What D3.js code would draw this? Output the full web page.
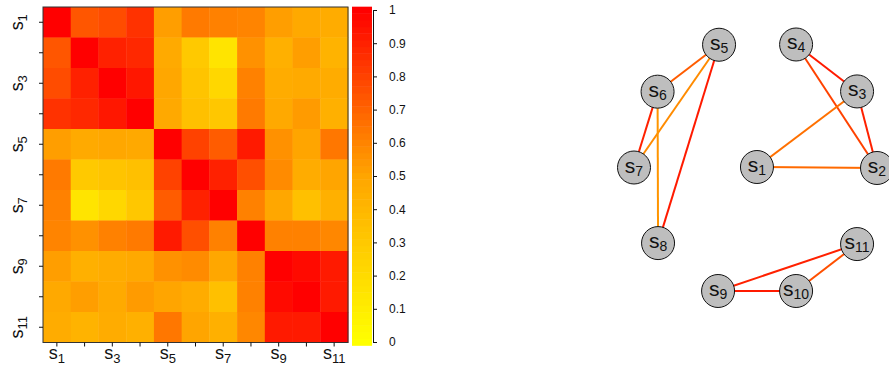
<!DOCTYPE html>
<html><head><meta charset="utf-8">
<script src="https://cdn.jsdelivr.net/npm/d3@7"></script>
<style>
body{margin:0;background:#fff}
svg{display:block}
text{font-family:"Liberation Sans",Arial,Helvetica,sans-serif;fill:#111}
</style>
</head><body>
<svg id="chart" width="889" height="366"></svg>
<script>
// ---------- data ----------
const nodeNames = ["s1","s2","s3","s4","s5","s6","s7","s8","s9","s10","s11"];
const nodeSubs  = ["1","2","3","4","5","6","7","8","9","10","11"];
const axisLabelIdx = [0,2,4,6,8,10];

const row_s1  = [1.00,0.74,0.77,0.85,0.52,0.63,0.61,0.60,0.52,0.48,0.46];
const row_s2  = [0.74,1.00,0.90,0.88,0.47,0.30,0.15,0.56,0.44,0.52,0.42];
const row_s3  = [0.77,0.90,1.00,0.93,0.49,0.33,0.22,0.61,0.46,0.47,0.46];
const row_s4  = [0.85,0.88,0.93,1.00,0.48,0.35,0.31,0.63,0.48,0.53,0.44];
const row_s5  = [0.52,0.47,0.49,0.48,1.00,0.80,0.72,0.92,0.56,0.50,0.64];
const row_s6  = [0.63,0.30,0.33,0.35,0.80,1.00,0.90,0.76,0.58,0.46,0.50];
const row_s7  = [0.61,0.15,0.22,0.31,0.72,0.90,1.00,0.61,0.49,0.35,0.44];
const row_s8  = [0.60,0.56,0.61,0.63,0.92,0.76,0.61,1.00,0.61,0.61,0.59];
const row_s9  = [0.52,0.44,0.46,0.48,0.56,0.58,0.49,0.61,1.00,0.97,0.92];
const row_s10 = [0.48,0.52,0.47,0.53,0.50,0.46,0.35,0.61,0.97,1.00,0.92];
const row_s11 = [0.46,0.42,0.46,0.44,0.64,0.50,0.44,0.59,0.92,0.92,1.00];
const matrix = [row_s1,row_s2,row_s3,row_s4,row_s5,row_s6,row_s7,row_s8,row_s9,row_s10,row_s11];

const colorbarTicks = [0,0.1,0.2,0.3,0.4,0.5,0.6,0.7,0.8,0.9,1];

// graph: edges (node indices) and edge weights
const edgeFrom   = [4,4,4,5,5,2,1,1,0,0,8,8,9];
const edgeTo     = [5,6,7,6,7,3,3,2,2,1,10,9,10];
const edgeWeight = [0.72,0.58,0.92,0.90,0.55,0.92,0.80,0.90,0.66,0.68,0.90,0.92,0.76];
// graph layout coordinates (unit square)
const layoutX = [0.506,1.000,0.918,0.667,0.350,0.097,0.000,0.099,0.346,0.667,0.918];
const layoutY = [0.498,0.502,0.192,0.002,0.003,0.193,0.500,0.806,1.000,1.000,0.810];

// ---------- drawing ----------
const svg = d3.select("#chart");
const n = nodeNames.length;
const color = d3.scaleLinear().domain([0,0.5,1]).range(["#ffff00","#ffa500","#ff0000"]).clamp(true);

const x = d3.scaleBand().domain(d3.range(n)).range([43,348]);
const y = d3.scaleBand().domain(d3.range(n)).range([7,342.5]);

const hm = svg.append("g");
matrix.forEach((row,i)=>{
  hm.selectAll(null).data(row).enter().append("rect")
    .attr("x",(d,j)=>x(j)).attr("y",y(i))
    .attr("width",x.bandwidth()+0.4).attr("height",y.bandwidth()+0.4)
    .attr("fill",d=>color(d));
});
hm.append("rect").attr("x",43).attr("y",7).attr("width",305).attr("height",335.5)
  .attr("fill","none").attr("stroke","#333").attr("stroke-width",1);

// axes ticks
const yAxis = d3.axisLeft(y).tickSize(4).tickSizeOuter(0).tickFormat(()=>"");
const gy = svg.append("g").attr("transform","translate(43,0)").call(yAxis);
gy.select(".domain").remove();
const xAxis = d3.axisBottom(x).tickSize(4).tickSizeOuter(0).tickFormat(()=>"");
const gx = svg.append("g").attr("transform","translate(0,342.5)").call(xAxis);
gx.select(".domain").remove();
svg.selectAll(".tick line").attr("stroke","#111");

function subLabel(sel, sub, big, small, dy){
  sel.append("tspan").text("s").attr("font-size",big);
  sel.append("tspan").text(sub).attr("font-size",small).attr("dy",dy);
}
// y labels
axisLabelIdx.forEach(i=>{
  const t = svg.append("text")
    .attr("transform",`translate(23,${y(i)+y.bandwidth()/2}) rotate(-90)`)
    .attr("text-anchor","middle");
  subLabel(t, nodeSubs[i], 18, 13, 4);
});
// x labels
axisLabelIdx.forEach(j=>{
  const t = svg.append("text")
    .attr("x",x(j)+x.bandwidth()/2).attr("y",359)
    .attr("text-anchor","middle");
  subLabel(t, nodeSubs[j], 18, 13, 4);
});

// colorbar
const cb = d3.scaleLinear().domain([0,1]).range([342,10]);
const steps = d3.range(0,1.0001,0.02);
svg.append("g").selectAll("rect").data(steps).enter().append("rect")
  .attr("x",352).attr("width",20)
  .attr("y",d=>cb(Math.min(d+0.01,1.01)))
  .attr("height",d=>cb(d-0.01)-cb(d+0.01)+0.5)
  .attr("fill",d=>color(d));
const cbAxis = d3.axisRight(cb).tickValues(colorbarTicks).tickSize(4).tickSizeOuter(0)
  .tickPadding(12).tickFormat(d3.format("~g"));
const gcb = svg.append("g").attr("transform","translate(373,0)").call(cbAxis);
gcb.select(".domain").attr("stroke","#111");
gcb.selectAll(".tick line").attr("stroke","#111");
gcb.selectAll("text").attr("font-size",12).attr("font-family","Liberation Sans, Arial, sans-serif").attr("fill","#111");

// graph
const px = d3.scaleLinear().domain([0,1]).range([634,877]);
const py = d3.scaleLinear().domain([0,1]).range([44,291]);
const edges = edgeFrom.map((f,k)=>({f, t:edgeTo[k], w:edgeWeight[k]}));
svg.append("g").selectAll("line").data(edges).enter().append("line")
  .attr("x1",d=>px(layoutX[d.f])).attr("y1",d=>py(layoutY[d.f]))
  .attr("x2",d=>px(layoutX[d.t])).attr("y2",d=>py(layoutY[d.t]))
  .attr("stroke",d=>color(d.w)).attr("stroke-width",2);
const nodes = svg.append("g").selectAll("g").data(d3.range(n)).enter().append("g")
  .attr("transform",i=>`translate(${px(layoutX[i])},${py(layoutY[i])})`);
nodes.append("circle").attr("r",16.5).attr("fill","#bebebe").attr("stroke","#111").attr("stroke-width",1);
nodes.each(function(i){
  const t = d3.select(this).append("text").attr("y",5).attr("text-anchor","middle");
  subLabel(t, nodeSubs[i], 21, 14, 3);
});
</script>
</body></html>
